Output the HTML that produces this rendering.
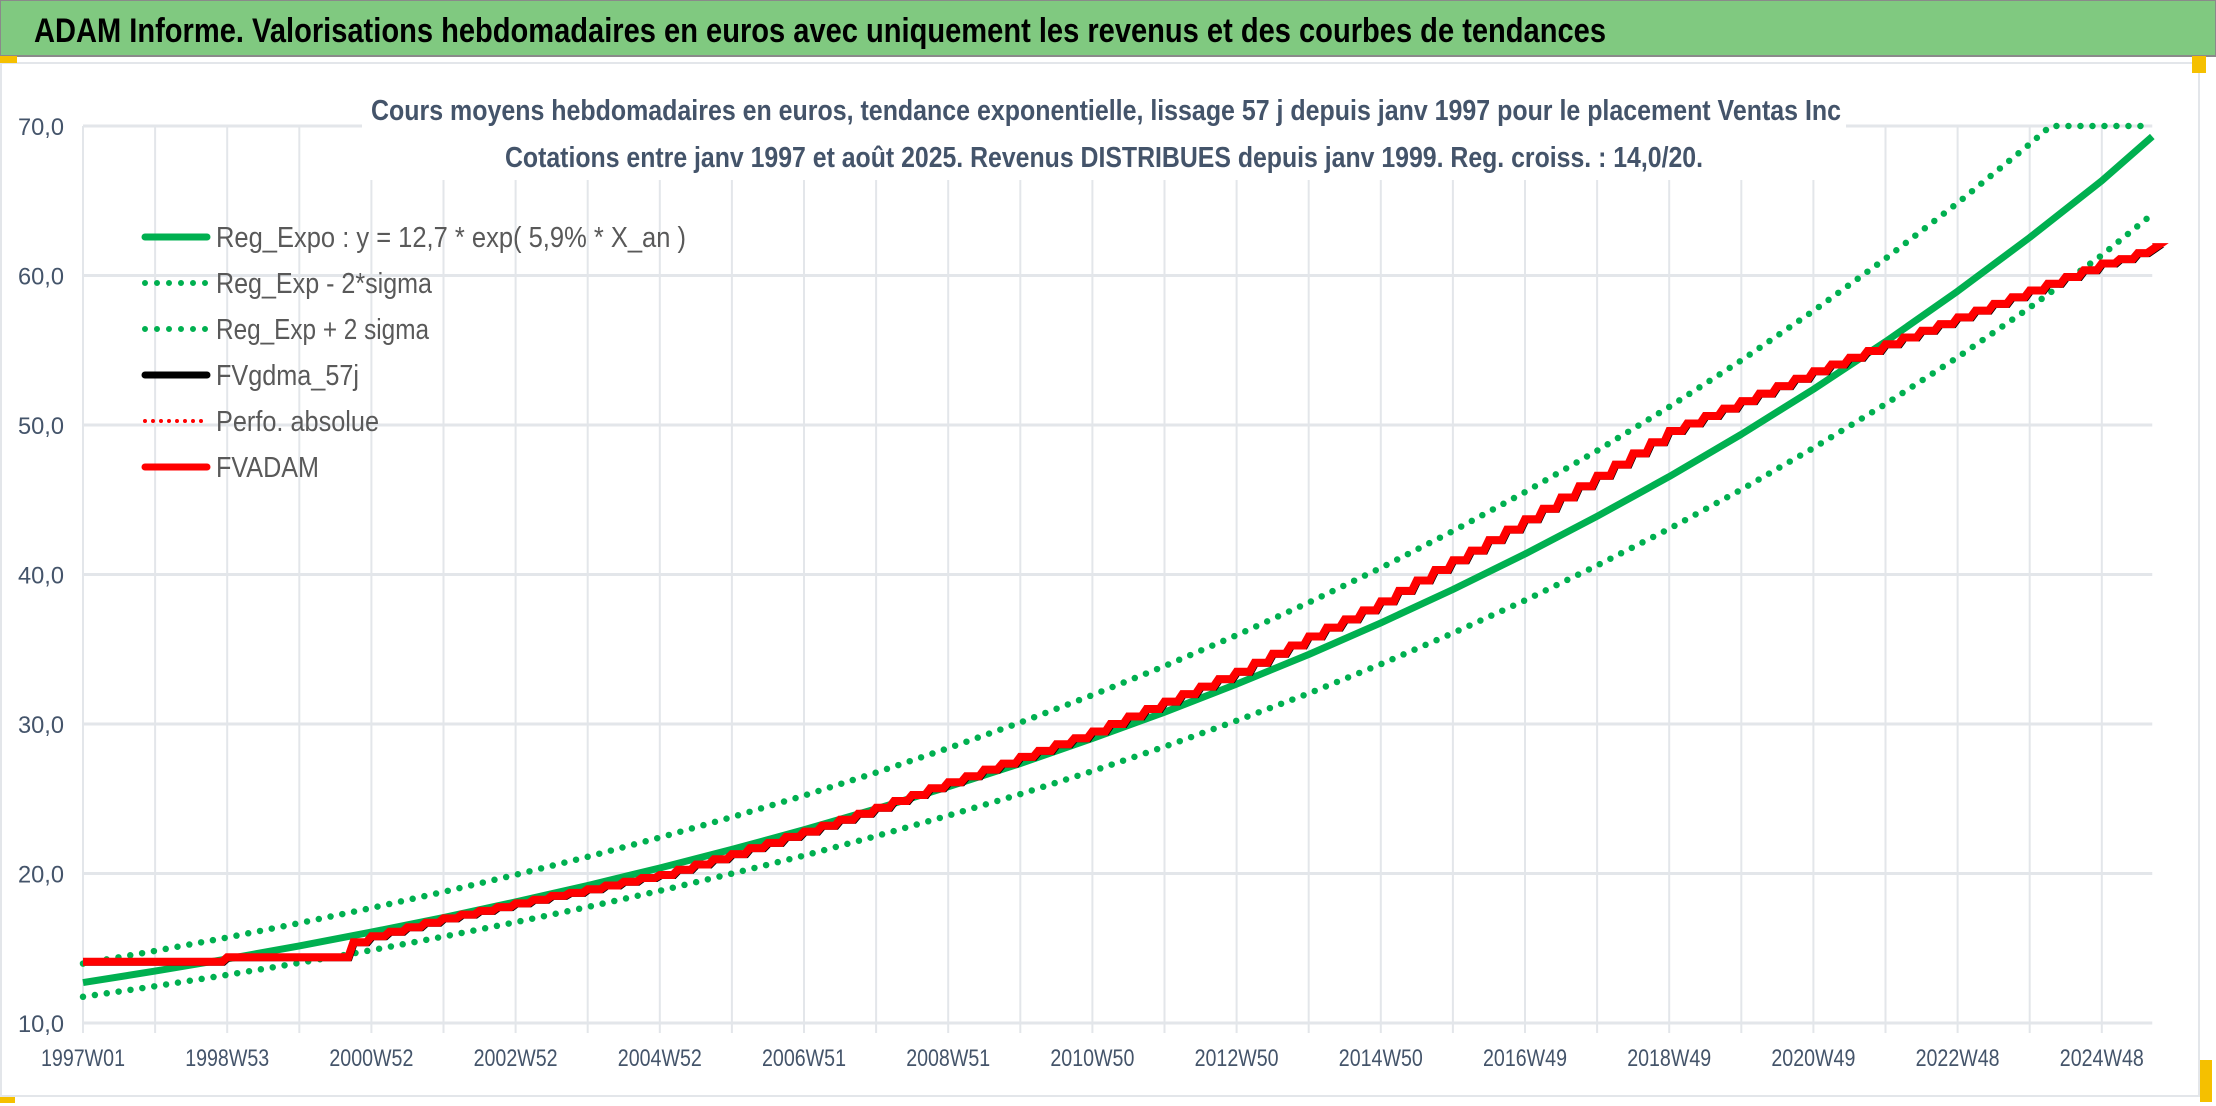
<!DOCTYPE html>
<html><head><meta charset="utf-8"><style>
html,body{margin:0;padding:0;background:#fff;}
svg{display:block;font-family:"Liberation Sans",sans-serif;}
</style></head><body>
<svg id="chart" width="2216" height="1106" viewBox="0 0 2216 1106">
  <rect x="0" y="0" width="2216" height="1106" fill="#fff"/>
  <rect x="0" y="0" width="2216" height="56" fill="#80c980" stroke="#8a8a8a" stroke-width="2"/>
  <text x="34" y="42" font-size="34" font-weight="bold" fill="#000" textLength="1572" lengthAdjust="spacingAndGlyphs">ADAM Informe. Valorisations hebdomadaires en euros avec uniquement les revenus et des courbes de tendances</text>
  <rect x="1" y="63" width="2198" height="1033" fill="#fff" stroke="#e3e6ea" stroke-width="2"/>
  <rect x="0" y="56" width="17" height="7" fill="#f5c000"/>
  <rect x="2192" y="56" width="14" height="17" fill="#f5c000"/>
  <rect x="2200" y="1060" width="12" height="42" fill="#f5c000"/>
  <rect x="0" y="1097" width="15" height="6" fill="#f5c000"/>
  <g id="grid"></g>
  <rect x="362" y="88" width="1484" height="92" fill="#fff"/>
  <text x="1106" y="120" text-anchor="middle" font-size="29" font-weight="bold" fill="#44546a" textLength="1470" lengthAdjust="spacingAndGlyphs">Cours moyens hebdomadaires en euros, tendance exponentielle, lissage 57 j depuis janv 1997 pour le placement Ventas Inc</text>
  <text x="1104" y="167" text-anchor="middle" font-size="29" font-weight="bold" fill="#44546a" textLength="1198" lengthAdjust="spacingAndGlyphs">Cotations entre janv 1997 et août 2025. Revenus DISTRIBUES depuis janv 1999. Reg. croiss. : 14,0/20.</text>
  <g id="axes"></g>
  <g id="series"></g>
  <g id="legend"></g>
</svg>
<script>
// ---- data ----
const yTicks = [10, 20, 30, 40, 50, 60, 70];
const yTickLabels = ["10,0", "20,0", "30,0", "40,0", "50,0", "60,0", "70,0"];
const xTickYears = [0, 2, 4, 6, 8, 10, 12, 14, 16, 18, 20, 22, 24, 26, 28];
const xTickLabels = ["1997W01","1998W53","2000W52","2002W52","2004W52","2006W51","2008W51","2010W50","2012W50","2014W50","2016W49","2018W49","2020W49","2022W48","2024W48"];
const trendYears = [0,1,2,3,4,5,6,7,8,9,10,11,12,13,14,15,16,17,18,19,20,21,22,23,24,25,26,27,28,28.7];
const regExpo = [12.7,13.47,14.29,15.16,16.08,17.06,18.10,19.20,20.37,21.61,22.92,24.32,25.80,27.36,29.03,30.79,32.67,34.65,36.76,39.00,41.37,43.89,46.55,49.38,52.39,55.57,58.95,62.54,66.34,69.3];
const regUpper = [13.97,14.82,15.72,16.68,17.69,18.77,19.91,21.12,22.41,23.77,25.21,26.75,28.38,30.10,31.93,33.87,35.94,38.12,40.44,42.90,45.51,48.28,51.21,54.32,57.63,61.13,64.85,68.79,72.97,76.2];
const regLower = [11.75,12.46,13.22,14.02,14.87,15.78,16.74,17.76,18.84,19.99,21.20,22.50,23.87,25.31,26.85,28.48,30.22,32.05,34.00,36.08,38.27,40.60,43.06,45.68,48.46,51.40,54.53,57.85,61.36,64.1];
const fvadam = [14.1,14.1,14.1,14.1,14.1,14.1,14.1,14.1,
 14.4,14.4,14.4,14.4,14.4,14.4,14.4,
 15.4,15.8,16.1,16.4,16.7,17.0,17.25,17.5,17.75,18.0,18.25,18.5,18.7,18.95,19.2,19.45,19.7,
 19.9,20.25,20.6,20.95,21.3,21.7,22.05,22.45,22.8,23.2,23.6,24.0,24.4,24.85,25.25,25.7,
 26.1,26.5,26.95,27.35,27.8,28.2,28.65,29.05,29.5,30.0,30.5,31.0,31.5,32.0,32.5,33.0,
 33.5,34.1,34.7,35.25,35.85,36.45,37.0,37.6,38.2,38.9,39.6,40.3,40.95,41.6,42.3,43.0,
 43.7,44.4,45.15,45.9,46.6,47.35,48.1,48.85,49.6,50.1,50.6,51.1,51.6,52.1,52.6,53.1,
 53.6,54.05,54.5,54.95,55.4,55.85,56.3,56.75,57.2,57.65,58.1,58.55,59.0,59.45,59.9,60.35,
 60.8,61.1,61.5,61.9];
const endYear = 28.7;
const yMax = 70;

// ---- scales ----
const X0 = 83, PX_PER_YEAR = 72.1;
const Y10 = 1023, Y70 = 126;
function xs(t){ return X0 + t * PX_PER_YEAR; }
function ys(v){ return Y10 - (v - 10) * (Y10 - Y70) / 60; }
const NS = "http://www.w3.org/2000/svg";
function mk(tag, attrs, parent){ const e = document.createElementNS(NS, tag); for (const k in attrs) e.setAttribute(k, attrs[k]); parent.appendChild(e); return e; }

// ---- grid ----
const grid = document.getElementById('grid');
for (let i = 0; i <= 28; i++) {
  const x = xs(i);
  const top = (x > 362 && x < 1846) ? 180 : Y70;
  const l = mk('line', {x1:x, x2:x, y1:top, y2:Y10 + 10, stroke:'#e3e6ea', 'stroke-width':2}, grid);
  
  
}
yTicks.forEach((v) => {
  const y = ys(v);
  const l = mk('line', {x1:X0, x2:xs(endYear), y1:y, y2:y, stroke:'#e3e6ea', 'stroke-width': 3}, grid);
  
  
});

// ---- axes labels ----
const axes = document.getElementById('axes');
yTicks.forEach((v, i) => {
  const t = mk('text', {x:64, y:ys(v) + 9, 'text-anchor':'end', 'font-size':24, fill:'#44546a', textLength:46, lengthAdjust:'spacingAndGlyphs'}, axes);
  t.textContent = yTickLabels[i];
  
  
});
xTickYears.forEach((yr, i) => {
  const t = mk('text', {x:xs(yr), y:1066, 'text-anchor':'middle', 'font-size':24, fill:'#44546a', textLength:84, lengthAdjust:'spacingAndGlyphs'}, axes);
  t.textContent = xTickLabels[i];
  
  
});

// ---- series ----
const series = document.getElementById('series');
function curvePts(arr, clamp){
  const p = [];
  for (let i = 0; i < trendYears.length; i++) {
    const v = arr[i];
    if (clamp && i > 0 && arr[i-1] < yMax && v > yMax) {
      const f = (yMax - arr[i-1]) / (v - arr[i-1]);
      const tc = trendYears[i-1] + f * (trendYears[i] - trendYears[i-1]);
      p.push(xs(tc).toFixed(1) + ',' + ys(yMax).toFixed(1));
    }
    p.push(xs(trendYears[i]).toFixed(1) + ',' + ys(clamp ? Math.min(v, yMax) : v).toFixed(1));
  }
  return p.join(' ');
}
function stepPts(arr){
  const p = [];
  arr.forEach((v, i) => {
    const t0 = i * 0.25, t1 = Math.min((i + 1) * 0.25, endYear);
    p.push(xs(t0).toFixed(1) + ',' + ys(v).toFixed(1));
    p.push(xs(t1 - 0.07 > t0 ? t1 - 0.07 : t1).toFixed(1) + ',' + ys(v).toFixed(1));
  });
  return p.join(' ');
}
const dotted = {fill:'none', stroke:'#00b050', 'stroke-width':6.5, 'stroke-dasharray':'0 12', 'stroke-linecap':'round'};
const up = mk('polyline', Object.assign({points:curvePts(regUpper, true)}, dotted), series);


const lo = mk('polyline', Object.assign({points:curvePts(regLower, false)}, dotted), series);


const reg = mk('polyline', {points:curvePts(regExpo, false), fill:'none', stroke:'#00b050', 'stroke-width':7, 'stroke-linejoin':'round'}, series);


const blk = mk('polyline', {points:stepPts(fvadam), fill:'none', stroke:'#000', 'stroke-width':4, transform:'translate(2,2)'}, series);


const red = mk('polyline', {points:stepPts(fvadam), fill:'none', stroke:'#ff0000', 'stroke-width':8, 'stroke-linejoin':'miter'}, series);



// ---- legend ----
const legend = document.getElementById('legend');
const legendLabels = ["Reg_Expo : y = 12,7 * exp( 5,9% *  X_an )", "Reg_Exp - 2*sigma", "Reg_Exp + 2 sigma", "FVgdma_57j", "Perfo. absolue", "FVADAM"];
const legendColors = ["#00b050", "#00b050", "#00b050", "#000000", "#ff0000", "#ff0000"];
const legendDotted = [false, true, true, false, true, false];
const legendWidths = [470, 216, 213, 143, 163, 103];
legendLabels.forEach((lab, i) => {
  const y = 237 + i * 46;
  const l = mk('line', {x1:145, x2:207, y1:y, y2:y, stroke:legendColors[i], 'stroke-width': legendDotted[i] ? (i === 4 ? 4 : 6) : 7, 'stroke-linecap':'round'}, legend);
  if (legendDotted[i]) l.setAttribute('stroke-dasharray', i === 4 ? '0 8' : '0 12');
  
  
  const t = mk('text', {x:216, y:y + 10, 'font-size':29, fill:'#595959', textLength:legendWidths[i], lengthAdjust:'spacingAndGlyphs'}, legend);
  t.textContent = lab;
  
  
});
</script>
</body></html>
